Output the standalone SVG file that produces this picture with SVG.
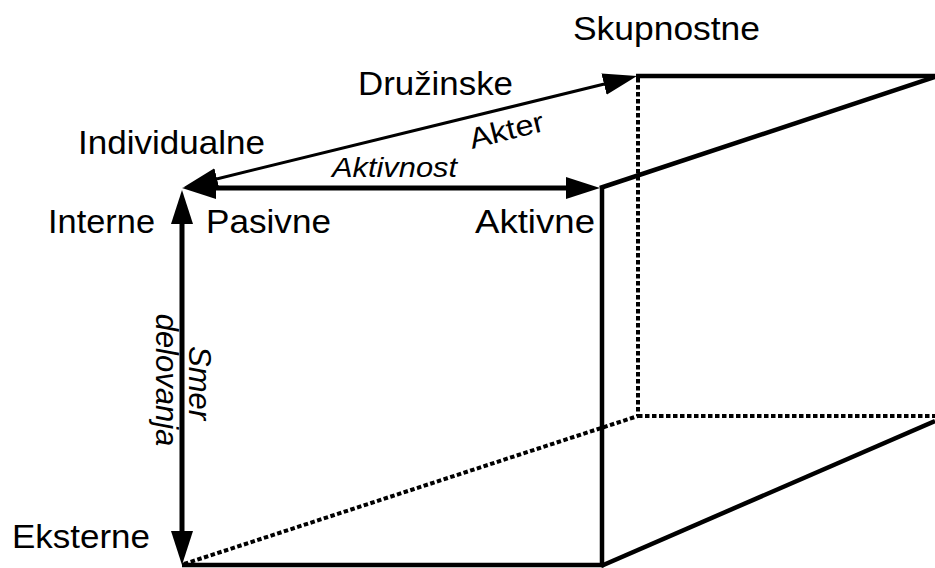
<svg xmlns="http://www.w3.org/2000/svg" width="935" height="568" viewBox="0 0 935 568">
<style>
.lbl{font-family:"Liberation Sans",Arial,sans-serif;font-size:33px;fill:#000}
.it{font-family:"Liberation Sans",Arial,sans-serif;font-size:28px;font-style:italic;fill:#000}
.vt{font-family:"Liberation Sans",Arial,sans-serif;font-size:31px;font-style:italic;fill:#000}
.up{font-family:"Liberation Sans",Arial,sans-serif;font-size:29px;fill:#000}
.solid{stroke:#000;stroke-width:4.5;fill:none}
.dot{stroke:#000;stroke-width:4;fill:none;stroke-dasharray:4.5 2.5}
.arr{stroke:#000;fill:none;marker-start:url(#ah);marker-end:url(#ah)}
</style>
<defs>
<marker id="ah" markerUnits="userSpaceOnUse" markerWidth="34" markerHeight="24" viewBox="0 0 34 24" refX="14" refY="12" orient="auto-start-reverse">
<path d="M0,1 L34,12 L0,23 z" fill="#000"/>
</marker>
</defs>
<rect width="935" height="568" fill="#fff"/>
<g id="cube">
<line class="dot" x1="638" y1="78" x2="638" y2="416"/>
<line class="dot" x1="638" y1="416" x2="935" y2="416"/>
<line class="dot" x1="184" y1="564" x2="638" y2="416"/>
<line class="solid" x1="636" y1="76" x2="935" y2="76"/>
<line class="solid" x1="600" y1="188" x2="935" y2="77"/>
<line class="solid" x1="602" y1="186" x2="602" y2="567"/>
<line class="solid" x1="182" y1="565" x2="604" y2="565"/>
<line class="solid" x1="601" y1="566" x2="935" y2="421"/>
</g>
<g id="connectors">
<line class="arr" stroke-width="5" x1="202" y1="188" x2="580" y2="188"/>
<line class="arr" stroke-width="5" x1="182" y1="210" x2="182" y2="545"/>
<line class="arr" stroke-width="3" x1="203.4" y1="182.2" x2="617.6" y2="80.8"/>
</g>
<g id="labels">
<text class="lbl" x="573" y="40" textLength="187" lengthAdjust="spacingAndGlyphs">Skupnostne</text>
<text class="lbl" x="358" y="95" textLength="155" lengthAdjust="spacingAndGlyphs">Družinske</text>
<text class="lbl" x="78" y="154" textLength="187" lengthAdjust="spacingAndGlyphs">Individualne</text>
<text class="lbl" x="48" y="233" textLength="107" lengthAdjust="spacingAndGlyphs">Interne</text>
<text class="lbl" x="206" y="233" textLength="125" lengthAdjust="spacingAndGlyphs">Pasivne</text>
<text class="lbl" x="475" y="233" textLength="120" lengthAdjust="spacingAndGlyphs">Aktivne</text>
<text class="lbl" x="12" y="548" textLength="138" lengthAdjust="spacingAndGlyphs">Eksterne</text>
<text class="it" x="332" y="177" textLength="125" lengthAdjust="spacingAndGlyphs">Aktivnost</text>
<text class="up" transform="translate(472,149) rotate(-14)" textLength="76" lengthAdjust="spacingAndGlyphs">Akter</text>
<text class="vt" transform="translate(189,383) rotate(90)" text-anchor="middle">Smer</text>
<text class="vt" transform="translate(156,380) rotate(90)" text-anchor="middle">delovanja</text>
</g>
</svg>
